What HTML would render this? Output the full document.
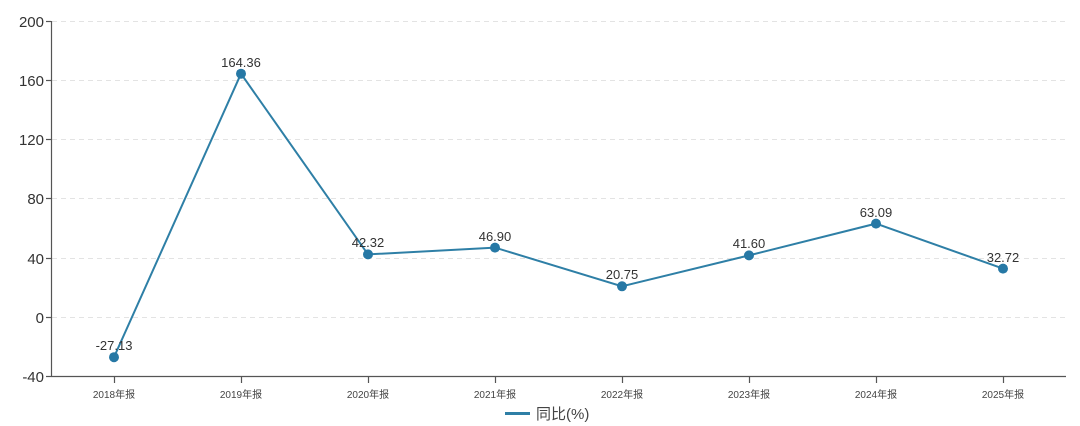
<!DOCTYPE html><html><head><meta charset="utf-8"><style>body{margin:0;background:#fff}svg{display:block}text{font-family:"Liberation Sans","Noto Sans CJK SC",sans-serif}</style></head><body>
<svg width="1080" height="426" xmlns="http://www.w3.org/2000/svg">
<g stroke="#e3e3e3" stroke-dasharray="5,4" stroke-width="1">
<line x1="52" y1="21.5" x2="1066" y2="21.5"/><line x1="52" y1="80.5" x2="1066" y2="80.5"/><line x1="52" y1="139.5" x2="1066" y2="139.5"/><line x1="52" y1="198.5" x2="1066" y2="198.5"/><line x1="52" y1="258.5" x2="1066" y2="258.5"/><line x1="52" y1="317.5" x2="1066" y2="317.5"/>
</g>
<g stroke="#555" stroke-width="1.2">
<line x1="51.5" y1="21" x2="51.5" y2="377"/><line x1="51" y1="376.5" x2="1066" y2="376.5"/>
<line x1="46" y1="21.5" x2="51" y2="21.5"/><line x1="46" y1="80.5" x2="51" y2="80.5"/><line x1="46" y1="139.5" x2="51" y2="139.5"/><line x1="46" y1="198.5" x2="51" y2="198.5"/><line x1="46" y1="258.5" x2="51" y2="258.5"/><line x1="46" y1="317.5" x2="51" y2="317.5"/><line x1="46" y1="376.5" x2="51" y2="376.5"/>
<line x1="114.5" y1="377" x2="114.5" y2="383"/><line x1="241.5" y1="377" x2="241.5" y2="383"/><line x1="368.5" y1="377" x2="368.5" y2="383"/><line x1="495.5" y1="377" x2="495.5" y2="383"/><line x1="622.5" y1="377" x2="622.5" y2="383"/><line x1="749.5" y1="377" x2="749.5" y2="383"/><line x1="876.5" y1="377" x2="876.5" y2="383"/><line x1="1003.5" y1="377" x2="1003.5" y2="383"/>
</g>
<g font-size="15" fill="#333" text-anchor="end">
<text x="44" y="27">200</text><text x="44" y="86">160</text><text x="44" y="145">120</text><text x="44" y="204">80</text><text x="44" y="264">40</text><text x="44" y="323">0</text><text x="44" y="382">-40</text>
</g>
<g font-size="10" fill="#444" text-anchor="middle">
<text x="114" y="398">2018年报</text><text x="241" y="398">2019年报</text><text x="368" y="398">2020年报</text><text x="495" y="398">2021年报</text><text x="622" y="398">2022年报</text><text x="749" y="398">2023年报</text><text x="876" y="398">2024年报</text><text x="1003" y="398">2025年报</text>
</g>
<polyline fill="none" stroke="#2e7fa6" stroke-width="2" points="114,357.2 241,73.7 368,254.4 495,247.6 622,286.3 749,255.4 876,223.6 1003,268.6"/>
<g fill="#2678a5">
<circle cx="114" cy="357.2" r="5"/><circle cx="241" cy="73.7" r="5"/><circle cx="368" cy="254.4" r="5"/><circle cx="495" cy="247.6" r="5"/><circle cx="622" cy="286.3" r="5"/><circle cx="749" cy="255.4" r="5"/><circle cx="876" cy="223.6" r="5"/><circle cx="1003" cy="268.6" r="5"/>
</g>
<g font-size="13" fill="#333" text-anchor="middle">
<text x="114" y="350">-27.13</text><text x="241" y="67">164.36</text><text x="368" y="247">42.32</text><text x="495" y="241">46.90</text><text x="622" y="279">20.75</text><text x="749" y="248">41.60</text><text x="876" y="217">63.09</text><text x="1003" y="262">32.72</text>
</g>
<line x1="505" y1="413.5" x2="530" y2="413.5" stroke="#2e7fa6" stroke-width="3"/>
<text x="536" y="419" font-size="15" fill="#444">同比(%)</text>
</svg></body></html>
